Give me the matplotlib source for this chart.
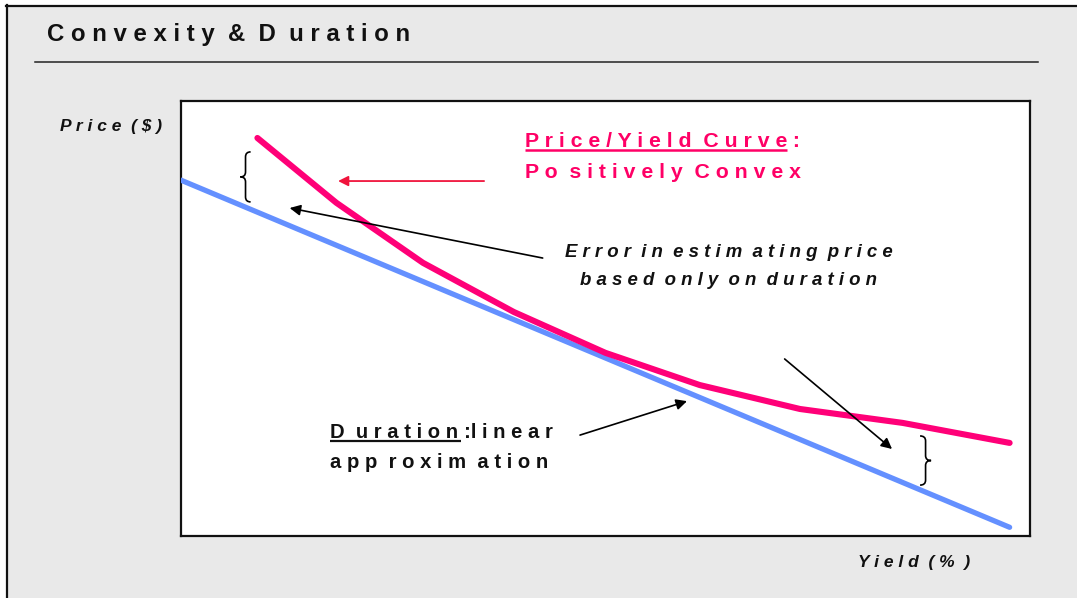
import matplotlib
matplotlib.use('Agg')
import matplotlib.pyplot as plt
from matplotlib.path import Path
from matplotlib.patches import PathPatch, Rectangle
from matplotlib.lines import Line2D

# ---- data ----
yield_curve = [0.9, 1.83, 2.85, 3.92, 5.0, 6.11, 7.29, 8.5, 9.76]
price_curve = [91.5, 76.6, 62.8, 51.5, 42.1, 34.7, 29.2, 26.0, 21.4]
yield_line = [0.0, 9.76]
price_line = [81.8, 2.0]

title_text = "C o n v e x i t y  &  D  u r a t i o n"
ylabel_text = "P r i c e  ( $ )"
xlabel_text = "Y i e l d  ( %  )"
pink_line1 = "P r i c e / Y i e l d  C u r v e"
pink_colon = " :"
pink_line2 = "P o  s i t i v e l y  C o n v e x"
err_line1 = "E r r o r  i n  e s t i m  a t i n g  p r i c e"
err_line2 = "b a s e d  o n l y  o n  d u r a t i o n"
dur_word = "D  u r a t i o n "
dur_rest = ":l i n e a r"
dur_line2 = "a p p  r o x i m  a t i o n"

PINK = '#FF0078'
BLUE = '#6490FF'
PINK_TXT = '#FF0066'
RED = '#F0143C'
BG = '#e9e9e9'
FONT = 'Liberation Sans'

W, H = 1077, 598
fig = plt.figure(figsize=(W / 100, H / 100), dpi=100, facecolor='white')
fig.patches.append(Rectangle((6 / W, 0), 1, 1 - 5 / H, transform=fig.transFigure,
                             facecolor=BG, edgecolor='none', zorder=-5))
fig.lines.append(Line2D([6 / W, 1], [1 - 5.5 / H, 1 - 5.5 / H], transform=fig.transFigure,
                        color='#111111', lw=1.6))
fig.lines.append(Line2D([6.5 / W, 6.5 / W], [0, 1 - 5 / H], transform=fig.transFigure,
                        color='#111111', lw=1.6))
# title rule
fig.lines.append(Line2D([35 / W, 1038 / W], [1 - 62 / H, 1 - 62 / H], transform=fig.transFigure,
                        color='#222222', lw=1.1))

fig.text(47 / W, 1 - 41 / H, title_text, fontsize=17.3, fontweight='bold', family=FONT,
         color='#111111', va='baseline', ha='left')
fig.text(60 / W, 1 - 131 / H, ylabel_text, fontsize=12.5, fontweight='bold', fontstyle='italic',
         family=FONT, color='#111111', va='baseline', ha='left')
fig.text(858 / W, 1 - 567 / H, xlabel_text, fontsize=12.5, fontweight='bold', fontstyle='italic',
         family=FONT, color='#111111', va='baseline', ha='left')

ax = fig.add_axes([181 / W, 1 - 536 / H, 849 / W, 435 / H])
ax.set_zorder(1)
ax.set_facecolor('white')
ax.set_xlim(0, 10)
ax.set_ylim(0, 100)
ax.set_xticks([])
ax.set_yticks([])
for s in ax.spines.values():
    s.set_linewidth(1.6)
    s.set_color('#111111')

ax.plot(yield_line, price_line, color=BLUE, lw=3.8, solid_capstyle='round', zorder=3)
ax.plot(yield_curve, price_curve, color=PINK, lw=4.4, solid_capstyle='round',
        solid_joinstyle='round', zorder=4)

# arrows
ax.annotate('', xy=(1.85, 81.6), xytext=(3.57, 81.6),
            arrowprops=dict(arrowstyle='-|>', color=RED, lw=1.3, mutation_scale=15,
                            shrinkA=0, shrinkB=0), zorder=5)
ax.annotate('', xy=(1.28, 75.4), xytext=(4.26, 63.9),
            arrowprops=dict(arrowstyle='-|>', color='black', lw=1.2, mutation_scale=16,
                            shrinkA=0, shrinkB=0), zorder=5)
ax.annotate('', xy=(5.96, 31.0), xytext=(4.70, 23.2),
            arrowprops=dict(arrowstyle='-|>', color='black', lw=1.2, mutation_scale=16,
                            shrinkA=0, shrinkB=0), zorder=5)
ax.annotate('', xy=(8.375, 20.0), xytext=(7.11, 40.7),
            arrowprops=dict(arrowstyle='-|>', color='black', lw=1.2, mutation_scale=16,
                            shrinkA=0, shrinkB=0), zorder=5)


def brace(x_mid, y0, y1, w, side):
    """side=-1 -> '{' (tip on left), side=+1 -> '}' (tip on right)"""
    ym = (y0 + y1) / 2
    tip = x_mid + side * w / 2
    end = x_mid - side * w / 2
    c = (y1 - y0) * 0.1
    verts = [(end, y1), (x_mid, y1), (x_mid, y1 - c),
             (x_mid, ym + c), (x_mid, ym), (tip, ym),
             (x_mid, ym), (x_mid, ym - c),
             (x_mid, y0 + c), (x_mid, y0), (end, y0)]
    codes = [Path.MOVETO, Path.CURVE3, Path.CURVE3,
             Path.LINETO, Path.CURVE3, Path.CURVE3,
             Path.CURVE3, Path.CURVE3,
             Path.LINETO, Path.CURVE3, Path.CURVE3]
    ax.add_patch(PathPatch(Path(verts, codes), facecolor='none', edgecolor='black',
                           lw=1.2, zorder=5))


brace(0.76, 76.8, 88.3, 0.12, -1)
brace(8.77, 11.7, 23.0, 0.13, +1)

PFS = 15.3
EFS = 13.4
DFS = 14.6

# texts inside
t_p1 = ax.text(4.05, 89.4, pink_line1, fontsize=PFS, fontweight='bold', family=FONT,
               color=PINK_TXT, va='baseline', ha='left', zorder=6)
ax.text(4.05, 82.3, pink_line2, fontsize=PFS, fontweight='bold', family=FONT,
        color=PINK_TXT, va='baseline', ha='left', zorder=6)
ax.text(6.45, 64.1, err_line1, fontsize=EFS, fontweight='bold', fontstyle='italic', family=FONT,
        color='#111111', va='baseline', ha='center', zorder=6)
ax.text(6.45, 57.6, err_line2, fontsize=EFS, fontweight='bold', fontstyle='italic', family=FONT,
        color='#111111', va='baseline', ha='center', zorder=6)
t_d = ax.text(1.755, 22.5, dur_word, fontsize=DFS, fontweight='bold', family=FONT,
              color='#111111', va='baseline', ha='left', zorder=6)
ax.text(1.755, 15.6, dur_line2, fontsize=DFS, fontweight='bold', family=FONT,
        color='#111111', va='baseline', ha='left', zorder=6)

fig.canvas.draw()
r = fig.canvas.get_renderer()
inv = ax.transData.inverted()
to_px = ax.transData

# pink colon and underline
bb = t_p1.get_window_extent(r)
x_end_data = inv.transform((bb.x1, 0))[0]
ax.text(x_end_data, 89.4, pink_colon, fontsize=PFS, fontweight='bold', family=FONT,
        color=PINK_TXT, va='baseline', ha='left', zorder=6)
base_px = to_px.transform((0, 89.4))[1]
ul_y = inv.transform((0, base_px - 3))[1]
ax.plot([4.05, x_end_data], [ul_y, ul_y], color=PINK_TXT, lw=1.8, zorder=6,
        solid_capstyle='butt')

bb = t_d.get_window_extent(r)
x_end_data = inv.transform((bb.x1, 0))[0]
ax.text(x_end_data, 22.5, dur_rest, fontsize=DFS, fontweight='bold', family=FONT,
        color='#111111', va='baseline', ha='left', zorder=6)
x_ul_end = inv.transform((bb.x1 - 3, 0))[0]
base_px = to_px.transform((0, 22.5))[1]
ul_y = inv.transform((0, base_px - 3))[1]
ax.plot([1.755, x_ul_end], [ul_y, ul_y], color='#111111', lw=1.6, zorder=6,
        solid_capstyle='butt')

fig.savefig('out.png', dpi=100, facecolor=fig.get_facecolor())
